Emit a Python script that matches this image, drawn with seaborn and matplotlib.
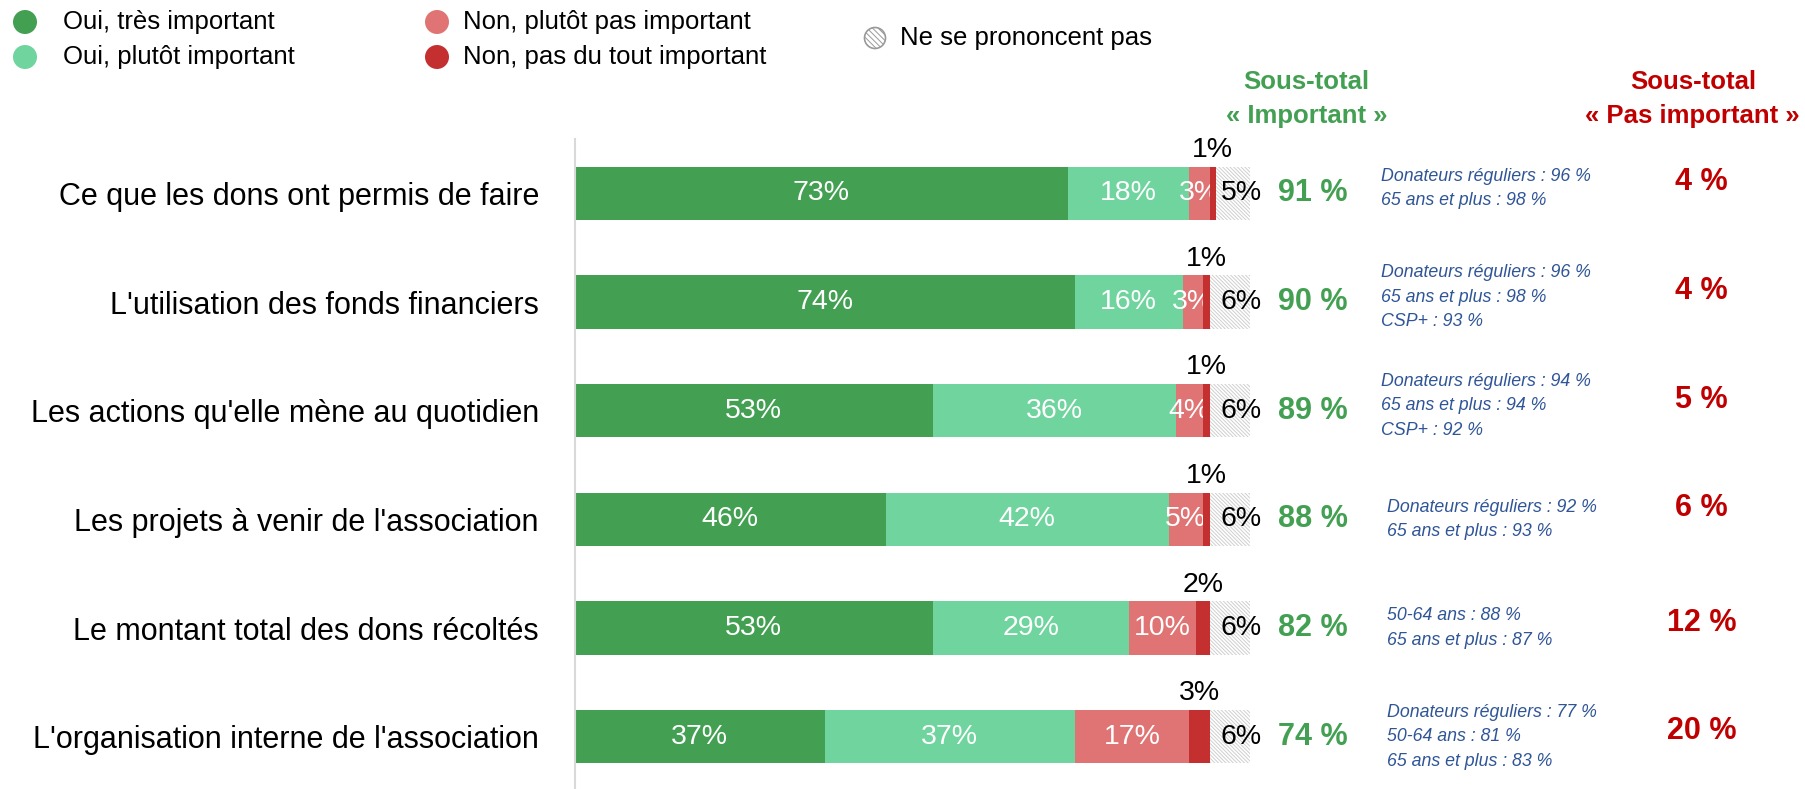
import numpy as np
import pandas as pd
import matplotlib
matplotlib.use("Agg")
import matplotlib.pyplot as plt
from matplotlib import font_manager
from matplotlib.patches import Ellipse, Rectangle
import seaborn as sns

# Données
categories = [
    "Ce que les dons ont permis de faire",
    "L'utilisation des fonds financiers",
    "Les actions qu'elle mène au quotidien",
    "Les projets à venir de l'association",
    "Le montant total des dons récoltés",
    "L'organisation interne de l'association",
]
tres_important = [73, 74, 53, 46, 53, 37]
plutot_important = [18, 16, 36, 42, 29, 37]
plutot_pas = [3, 3, 4, 5, 10, 17]
pas_du_tout = [1, 1, 1, 1, 2, 3]
nsp = [5, 6, 6, 6, 6, 6]
sous_total_imp = [91, 90, 89, 88, 82, 74]
sous_total_pas = [4, 4, 5, 6, 12, 20]
details = [
    ["Donateurs réguliers : 96 %", "65 ans et plus : 98 %"],
    ["Donateurs réguliers : 96 %", "65 ans et plus : 98 %", "CSP+ : 93 %"],
    ["Donateurs réguliers : 94 %", "65 ans et plus : 94 %", "CSP+ : 92 %"],
    ["Donateurs réguliers : 92 %", "65 ans et plus : 93 %"],
    ["50-64 ans : 88 %", "65 ans et plus : 87 %"],
    ["Donateurs réguliers : 77 %", "50-64 ans : 81 %", "65 ans et plus : 83 %"],
]
legende = ["Oui, très important", "Oui, plutôt important",
           "Non, plutôt pas important", "Non, pas du tout important",
           "Ne se prononcent pas"]

VERT = "#43A052"
VERT_CLAIR = "#6FD49E"
ROUGE_CLAIR = "#E07474"
ROUGE = "#C42F2F"
GRIS = "#CFCFCF"
BLEU = "#2F5597"
ROUGE_TXT = "#C00000"
couleurs = [VERT, VERT_CLAIR, ROUGE_CLAIR, ROUGE]

sns.set_style("white")
plt.rcParams["font.family"] = ["Liberation Sans", "DejaVu Sans"]
plt.rcParams["hatch.linewidth"] = 0.7

# police étroite pour les en-têtes si elle existe
noms = {f.name for f in font_manager.fontManager.ttflist}
if "Liberation Sans Narrow" in noms:
    entete_font = {"family": ["Liberation Sans Narrow", "Liberation Sans"], "size": 21}
else:
    entete_font = {"family": ["Liberation Sans", "DejaVu Sans"], "size": 18.5}

df = pd.DataFrame({
    "categorie": categories,
    "s1": tres_important,
    "s2": plutot_important,
    "s3": plutot_pas,
    "s4": pas_du_tout,
    "s5": nsp,
})
cols = ["s1", "s2", "s3", "s4", "s5"]
cum = df[cols].cumsum(axis=1)
for k, c in enumerate(cols):
    df["cum" + str(k + 1)] = cum[c]

fig = plt.figure(figsize=(18.05, 7.89), dpi=100)
ax = fig.add_axes([575 / 1805, -2 / 789, 675 / 1805, 652 / 789])

H = 0.49
# barres empilées : on dessine les cumuls du plus grand au plus petit
sns.barplot(data=df, x="cum5", y="categorie", orient="h", color="white",
            saturation=1, width=H, edgecolor=GRIS, linewidth=0,
            hatch="\\" * 9, ax=ax)
for k in [4, 3, 2, 1]:
    sns.barplot(data=df, x="cum" + str(k), y="categorie", orient="h",
                color=couleurs[k - 1], saturation=1, width=H, linewidth=0, ax=ax)

ax.set_xlim(0, 100)
ax.set_ylim(len(categories) - 0.5, -0.5)
ax.set_xlabel("")
ax.set_ylabel("")
ax.set_xticks([])
for s in ["top", "right", "bottom"]:
    ax.spines[s].set_visible(False)
ax.spines["left"].set_color("#D9D9D9")
ax.spines["left"].set_linewidth(1.5)
ax.tick_params(axis="y", which="major", length=0, pad=26, labelsize=22, labelcolor="black")
ax.set_yticks(np.arange(-0.5, len(categories)), minor=True)
ax.tick_params(axis="y", which="minor", length=7, width=1.5, color="#D9D9D9", direction="out")

for i in range(len(categories)):
    gauche = 0
    for k, c in enumerate(cols[:3]):
        v = df.loc[i, c]
        # le texte est coupé par le segment suivant (à droite seulement)
        rect = Rectangle((0, i - H / 2), gauche + v, H, transform=ax.transData)
        t = ax.text(gauche + v / 2, i, f"{v}%", ha="center", va="center",
                    color="white", fontsize=20.5, clip_on=True)
        t.set_clip_path(rect)
        gauche += v
    # petit pourcentage "pas du tout" au-dessus
    v4 = df.loc[i, "s4"]
    ax.text(gauche + v4 / 2, i - 0.4, f"{v4}%", ha="center", va="center",
            color="black", fontsize=20.5)
    # ne se prononcent pas
    ax.text(98.7, i, f"{df.loc[i, 's5']}%", ha="center", va="center",
            color="black", fontsize=20.5)
    # sous-total important
    ax.text(109.3, i, f"{sous_total_imp[i]} %", ha="center", va="center",
            color=VERT, fontsize=22, fontweight="bold")
    # détails
    dx = 119.4 if i < 3 else 120.3
    dy = 0.045 if i < 3 else 0
    ax.text(dx, i - dy, "\n".join(details[i]), ha="left", va="center",
            color=BLEU, fontsize=12.8, fontstyle="italic", linespacing=1.58)
    # sous-total pas important
    dy2 = 0.1 if i < 4 else 0.05
    ax.text(166.9, i - dy2, f"{sous_total_pas[i]} %", ha="center", va="center",
            color=ROUGE_TXT, fontsize=22, fontweight="bold")

# en-têtes
ax.text(108.4, -0.87, "Sous-total\n« Important »", ha="center", va="center",
        color=VERT, fontweight="bold", linespacing=1.5, **entete_font)
ax.text(165.6, -0.87, "Sous-total\n« Pas important »", ha="center", va="center",
        color=ROUGE_TXT, fontweight="bold", linespacing=1.5, **entete_font)

# légende faite à la main
pos_leg = [(25, 22), (25, 57), (437, 22), (437, 57), (875, 38)]
pos_txt = [63, 63, 463, 463, 900]
for k, (lab, (px, py), tx) in enumerate(zip(legende, pos_leg, pos_txt)):
    xf = px / 1805
    yf = 1 - py / 789
    if k < 4:
        e = Ellipse((xf, yf), 24 / 1805, 24 / 789, transform=fig.transFigure,
                    facecolor=couleurs[k], edgecolor="none")
    else:
        e = Ellipse((xf, yf), 21 / 1805, 21 / 789, transform=fig.transFigure,
                    facecolor="white", edgecolor="#9A9A9A", linewidth=1.2,
                    hatch="\\" * 6)
    fig.add_artist(e)
    fig.text(tx / 1805, yf, lab, ha="left", va="center", fontsize=18.5,
             color="black")

fig.savefig("out.png", dpi=100)
